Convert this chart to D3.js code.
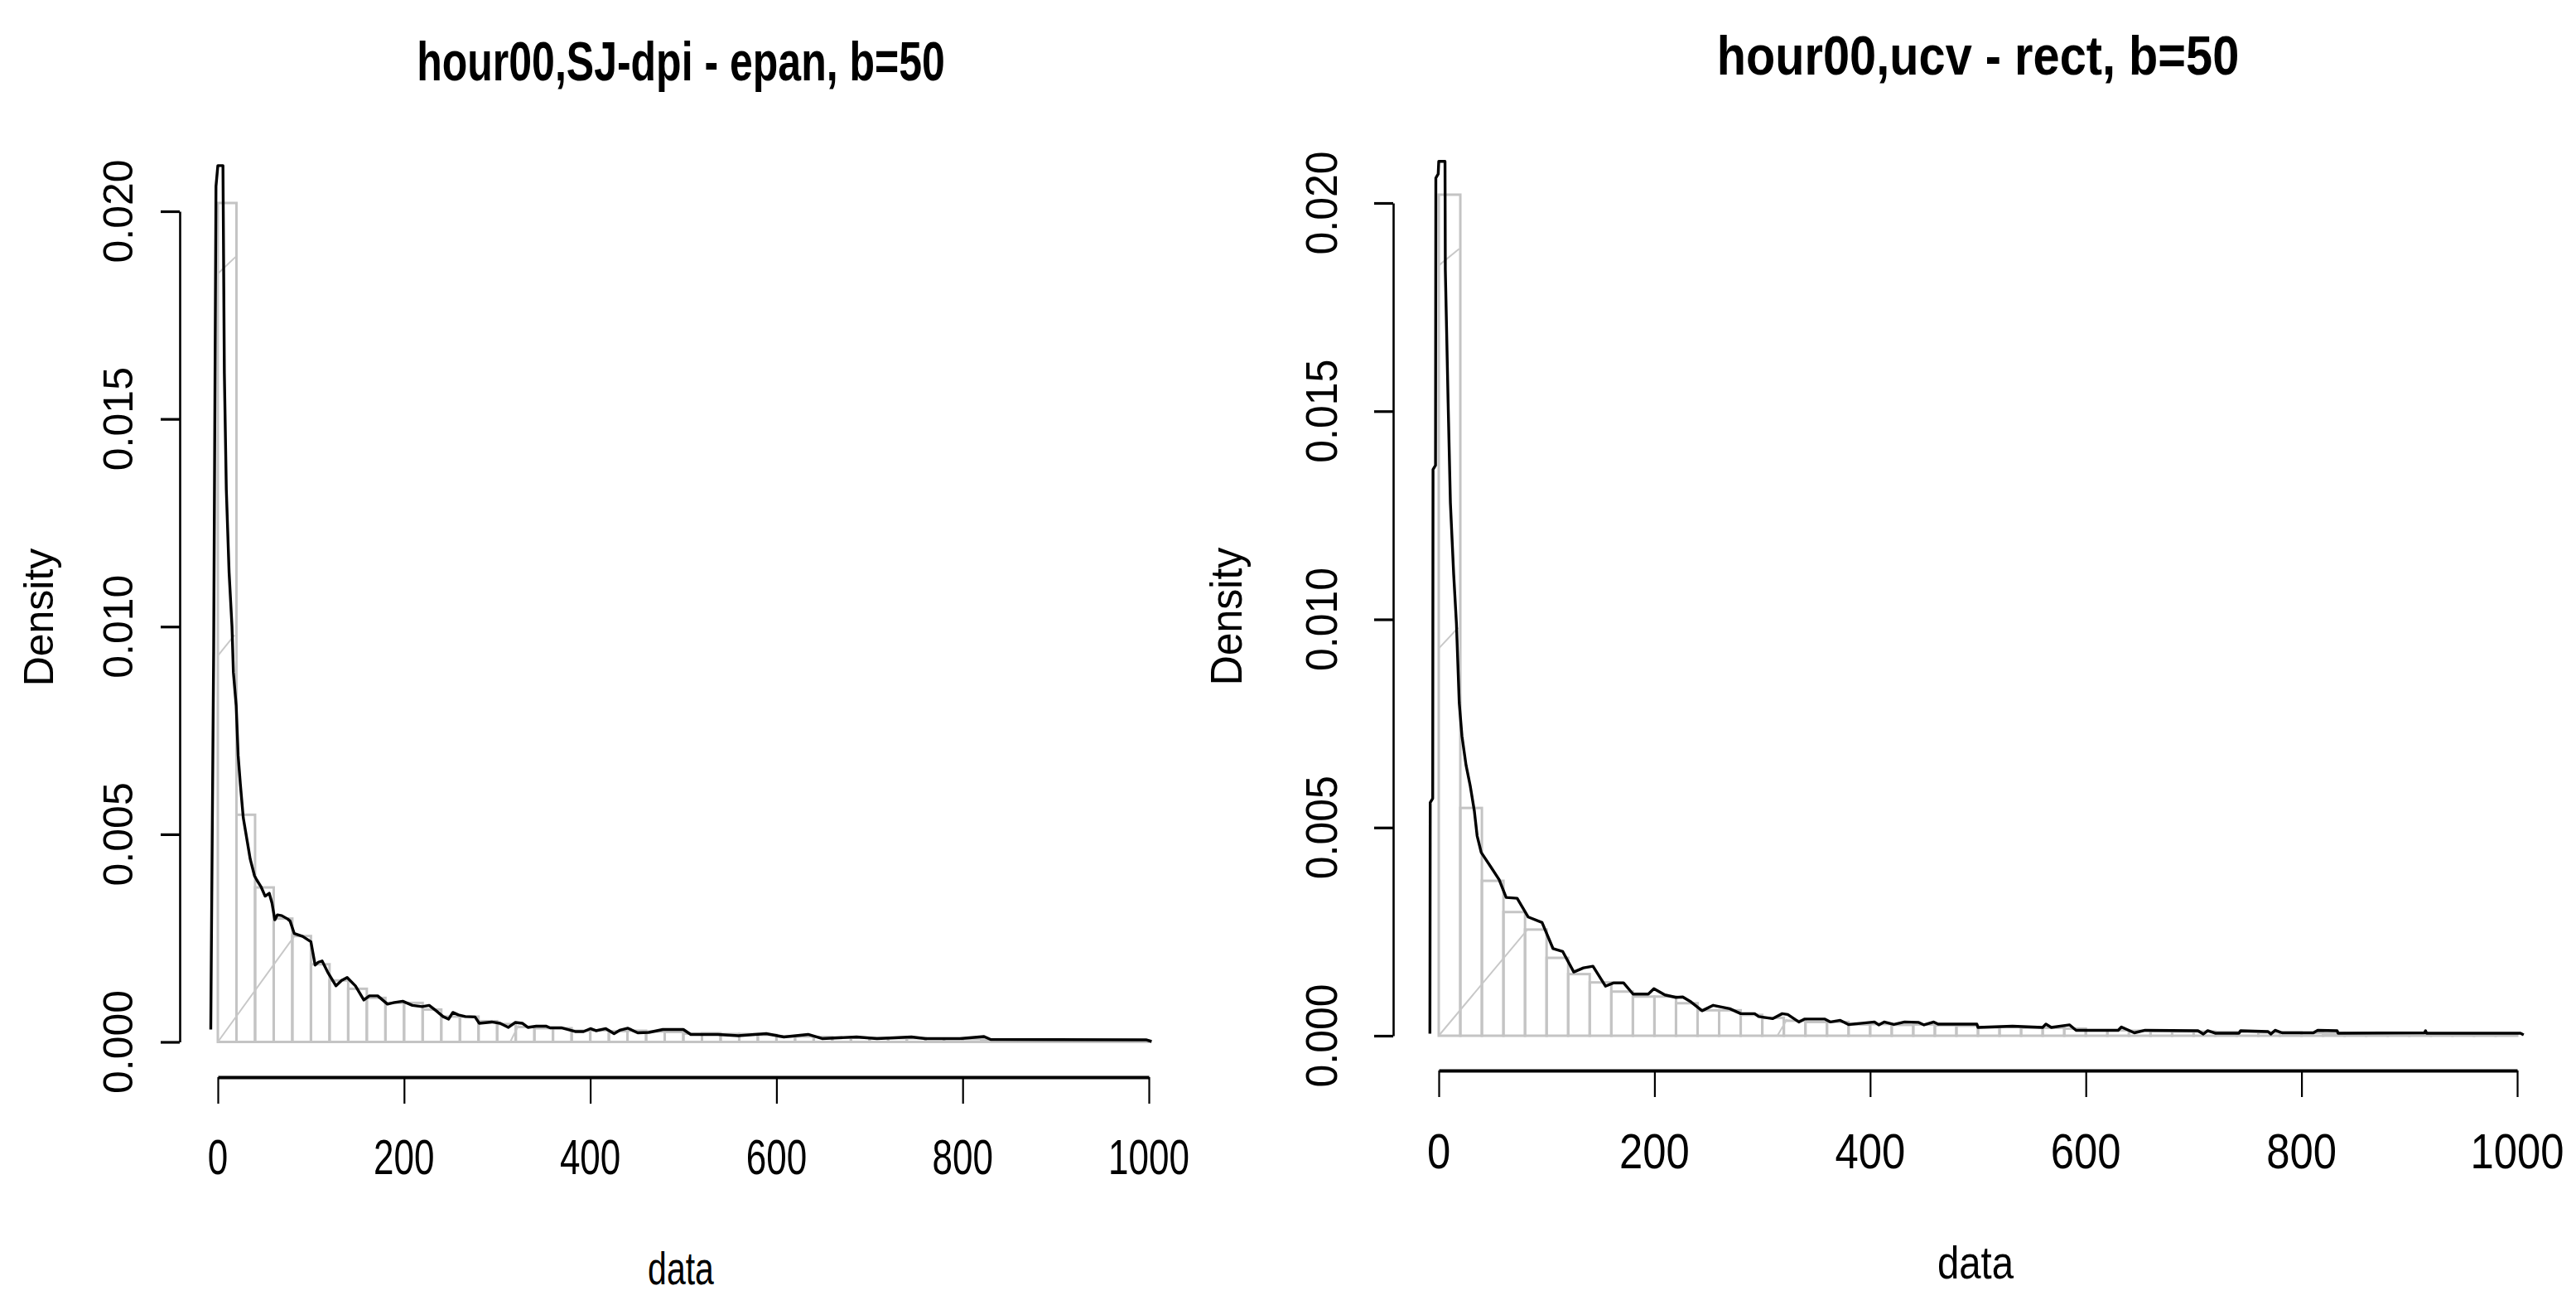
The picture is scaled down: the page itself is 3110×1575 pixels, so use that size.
<!DOCTYPE html>
<html><head><meta charset="utf-8">
<script src="https://cdn.jsdelivr.net/npm/d3@7/dist/d3.min.js"></script>
<style>
body{margin:0;background:#fff;}
text{font-family:"Liberation Sans",Arial,Helvetica,sans-serif;fill:#000;}
</style>
</head><body>
<svg id="chart" width="3110" height="1575"></svg>
<script>
// ---------- data ----------
const titles = ["hour00,SJ-dpi - epan, b=50", "hour00,ucv - rect, b=50"];
const xAxisTitle = "data";
const yAxisTitle = "Density";
const xTicks = [0, 200, 400, 600, 800, 1000];
const xTickLabels = ["0", "200", "400", "600", "800", "1000"];
const yTicks = [0, 0.005, 0.010, 0.015, 0.020];
const yTickLabels = ["0.000", "0.005", "0.010", "0.015", "0.020"];

const binEdges = [0,20,40,60,80,100,120,140,160,180,200,220,240,260,280,300,320,340,360,380,
  400,420,440,460,480,500,520,540,560,580,600,620,640,660,680,700,720,740,760,780,
  800,820,840,860,880,900,920,940,960,980,1000];
const histDensity = [0.0202,0.00547,0.00372,0.00297,0.00255,0.00187,0.00148,0.00128,0.00106,0.00094,
  0.00094,0.00078,0.00061,0.00061,0.00050,0.00043,0.00036,0.00033,0.00033,0.00027,
  0.00028,0.00026,0.00027,0.00025,0.00024,0.00020,0.00021,0.00019,0.00019,0.00017,
  0.00013,0.00013,0.00012,0.00011,0.00010,0.00010,0.00009,0.00009,0.00008,0.00008,
  0.00007,0.00006,0.00006,0.00005,0.00005,0.00005,0.00004,0.00004,0.00004,0.00003];

// SJ-dpi / Epanechnikov density curve
const sjX = [-7.6,-7.0,-4.5,-2.0,0,5.5,7,9.1,12.1,15.2,16.7,19.7,21.8,24.2,27.3,31.8,34.8,39.4,41.8,46.3,
  50.8,55.2,58.2,61.2,64,68.7,75,77.6,82.1,91.1,100,104.5,108,112,118,126.9,133,138.9,147.8,156.8,
  162.8,171.7,182.2,189.7,198.6,209,219.5,227,234.5,241.9,247.9,252.4,258.4,265.8,276.3,280.8,294.2,303.2,312.1,319.6,
  327,333,342,352.4,356.9,368.9,383.8,392.8,400.2,406.2,416.7,425.6,431.6,440.5,451,463,478,500,508,537,
  559,589,608,634,649,686,708,745,760,797,823,830,997,1003];
const sjY = [0.0003,0.0021,0.0094,0.0206,0.0211,0.0211,0.0161,0.0133,0.0113,0.0100,0.0089,0.0081,0.0069,0.0062,0.0054,0.0048,0.0044,0.0040,0.0039,0.00374,
  0.00351,0.00358,0.00334,0.00294,0.00306,0.00304,0.00296,0.00291,0.00261,0.00254,0.00241,0.00185,0.00192,0.00195,0.00168,0.00135,0.00148,0.00155,0.00135,0.00101,
  0.00111,0.00111,0.00091,0.00095,0.00098,0.00088,0.00085,0.00088,0.00075,0.00061,0.00055,0.00071,0.00065,0.00061,0.00060,0.00045,0.00048,0.00045,0.00035,0.00047,
  0.00045,0.00035,0.00038,0.00038,0.00034,0.00034,0.00025,0.00025,0.00032,0.00027,0.00032,0.00020,0.00028,0.00033,0.00022,0.00023,0.00030,0.00030,0.00018,0.00018,
  0.00015,0.00020,0.00012,0.00018,0.00008,0.00012,0.00008,0.00012,0.00008,0.00008,0.00013,0.00006,0.00005,0.00001];

// UCV / rectangular density curve
const ucvX = [-8.2,-7.9,-5.6,-5.3,-3.0,-2.7,-0.5,0,5.8,6.1,8.7,10.8,13.8,16.4,19,21.5,25.3,29.2,33,35.6,
  39.4,48.4,56,62.5,72.7,83,95.8,106,115,125.2,134.2,143,154.6,162.3,171.3,180.2,194.3,199.5,209.7,219.9,
  226.3,234,244.2,254.5,269.8,280,292.9,296.7,309.5,318.5,323.6,333.9,339,358.1,363.3,372.3,380,392.7,404,408,
  413,422,432,445,450,459,463,499,500,532,560,563,568,585,591,630,633,645,655,704,
  709,713,720,742,743.5,769,771.6,775.5,782,811,815,833,834,914,915,916,1003,1006];
const ucvY = [0.00005,0.0056,0.0057,0.0136,0.0137,0.0206,0.0207,0.0210,0.0210,0.0184,0.0152,0.0128,0.0111,0.0099,0.0080,0.0072,0.0065,0.0060,0.0054,0.0048,
  0.0044,0.00405,0.00375,0.00332,0.00330,0.00285,0.00272,0.00209,0.00202,0.00153,0.00163,0.00167,0.00119,0.00127,0.00127,0.00100,0.00100,0.00113,0.00098,0.00092,
  0.00093,0.00081,0.00060,0.00073,0.00065,0.00053,0.00053,0.00046,0.00041,0.00053,0.00051,0.00033,0.00040,0.00040,0.00033,0.00037,0.00027,0.00030,0.00033,0.00026,
  0.00033,0.00027,0.00033,0.00032,0.00026,0.00033,0.00028,0.00028,0.00020,0.00023,0.00020,0.00028,0.00020,0.00026,0.00013,0.00013,0.00021,0.00007,0.00013,0.00012,
  0.00004,0.00012,0.00006,0.00006,0.00012,0.00010,0.00004,0.00013,0.00007,0.00007,0.00013,0.00012,0.00006,0.00007,0.00012,0.00006,0.00006,0.00002];

// faint grey diagonal traces (null = break)
const greyX = [0, 82, null, 0, 18, null, 0, 19, null, 314, 323];
const greyY = [0, 0.00254, null, 0.0093, 0.0098, null, 0.0185, 0.0189, null, 0, 0.0004];

// ---------- layout ----------
const S = 1.34; // vertical stretch of horizontal text (left panel)
const panels = [
  {title: titles[0], cx: sjX, cy: sjY, px0: 263, px1: 1387, py0: 1257.5, py1: 255,
   yAxisX: 217, xAxisY: 1300, titleX: 822, titleY: 97, xLabY: 1417, dataX: 822, dataY: 1550,
   yLabX: 160, densX: 64, densY: 745, hs: 1.0, rs: 1.0},
  {title: titles[1], cx: ucvX, cy: ucvY, px0: 1737, px1: 3039, py0: 1250, py1: 245,
   yAxisX: 1682, xAxisY: 1292, titleX: 2388, titleY: 90, xLabY: 1410, dataX: 2385, dataY: 1543,
   yLabX: 1614, densX: 1499, densY: 744, hs: 1.155, rs: 1.08}
];

const svg = d3.select("#chart");
svg.append("rect").attr("width", 3110).attr("height", 1575).attr("fill", "#fff");

panels.forEach(p => {
  const x = d3.scaleLinear().domain([0, 1000]).range([p.px0, p.px1]);
  const y = d3.scaleLinear().domain([0, 0.02]).range([p.py0, p.py1]);
  const g = svg.append("g");
  const hscale = `scale(${p.hs},${S})`;     // horizontal text
  const rscale = `scale(${p.rs},1) rotate(-90)`; // rotated text

  // histogram bars
  const bins = histDensity.map((v, i) => ({x0: binEdges[i], x1: binEdges[i + 1], v}));
  g.append("g").selectAll("rect").data(bins).join("rect")
    .attr("x", d => x(d.x0)).attr("width", d => x(d.x1) - x(d.x0))
    .attr("y", d => y(d.v)).attr("height", d => y(0) - y(d.v))
    .attr("fill", "none").attr("stroke", "#c4c4c4").attr("stroke-width", 3);

  // grey traces
  const gpts = greyX.map((v, i) => [v, greyY[i]]);
  g.append("path").datum(gpts)
    .attr("d", d3.line().defined(d => d[0] !== null).x(d => x(d[0])).y(d => y(d[1])))
    .attr("fill", "none").attr("stroke", "#c8c8c8").attr("stroke-width", 2);

  // density curve
  const pts = p.cx.map((v, i) => [v, p.cy[i]]);
  g.append("path").datum(pts)
    .attr("d", d3.line().x(d => x(d[0])).y(d => y(d[1])))
    .attr("fill", "none").attr("stroke", "#000").attr("stroke-width", 3.4)
    .attr("stroke-linejoin", "round");

  // x axis
  const xa = g.append("g").attr("transform", `translate(0,${p.xAxisY})`)
    .call(d3.axisBottom(x).tickValues(xTicks).tickSize(32).tickSizeOuter(0).tickFormat(""));
  xa.select(".domain").attr("stroke", "#000").attr("stroke-width", 4);
  xa.selectAll(".tick line").attr("stroke", "#000").attr("stroke-width", 2.2);
  xa.selectAll(".tick text").remove();

  // y axis
  const ya = g.append("g").attr("transform", `translate(${p.yAxisX},0)`)
    .call(d3.axisLeft(y).tickValues(yTicks).tickSize(23).tickSizeOuter(0).tickFormat(""));
  ya.select(".domain").attr("stroke", "#000").attr("stroke-width", 2.6);
  ya.selectAll(".tick line").attr("stroke", "#000").attr("stroke-width", 3.2);
  ya.selectAll(".tick text").remove();

  // x tick labels
  g.append("g").selectAll("text").data(xTicks).join("text")
    .attr("transform", d => `translate(${x(d)},${p.xLabY}) ${hscale}`)
    .attr("text-anchor", "middle").attr("font-size", 44)
    .text((d, i) => xTickLabels[i]);

  // y tick labels (rotated)
  g.append("g").selectAll("text").data(yTicks).join("text")
    .attr("transform", d => `translate(${p.yLabX},${y(d)}) ${rscale}`)
    .attr("text-anchor", "middle").attr("font-size", 50)
    .text((d, i) => yTickLabels[i]);

  // title
  g.append("text")
    .attr("transform", `translate(${p.titleX},${p.titleY}) ${hscale}`)
    .attr("text-anchor", "middle").attr("font-size", 50).attr("font-weight", "bold")
    .text(p.title);

  // axis titles
  g.append("text")
    .attr("transform", `translate(${p.dataX},${p.dataY}) ${hscale}`)
    .attr("text-anchor", "middle").attr("font-size", 41)
    .text(xAxisTitle);
  g.append("text")
    .attr("transform", `translate(${p.densX},${p.densY}) ${rscale}`)
    .attr("text-anchor", "middle").attr("font-size", 50)
    .text(yAxisTitle);
});
</script>
</body></html>
